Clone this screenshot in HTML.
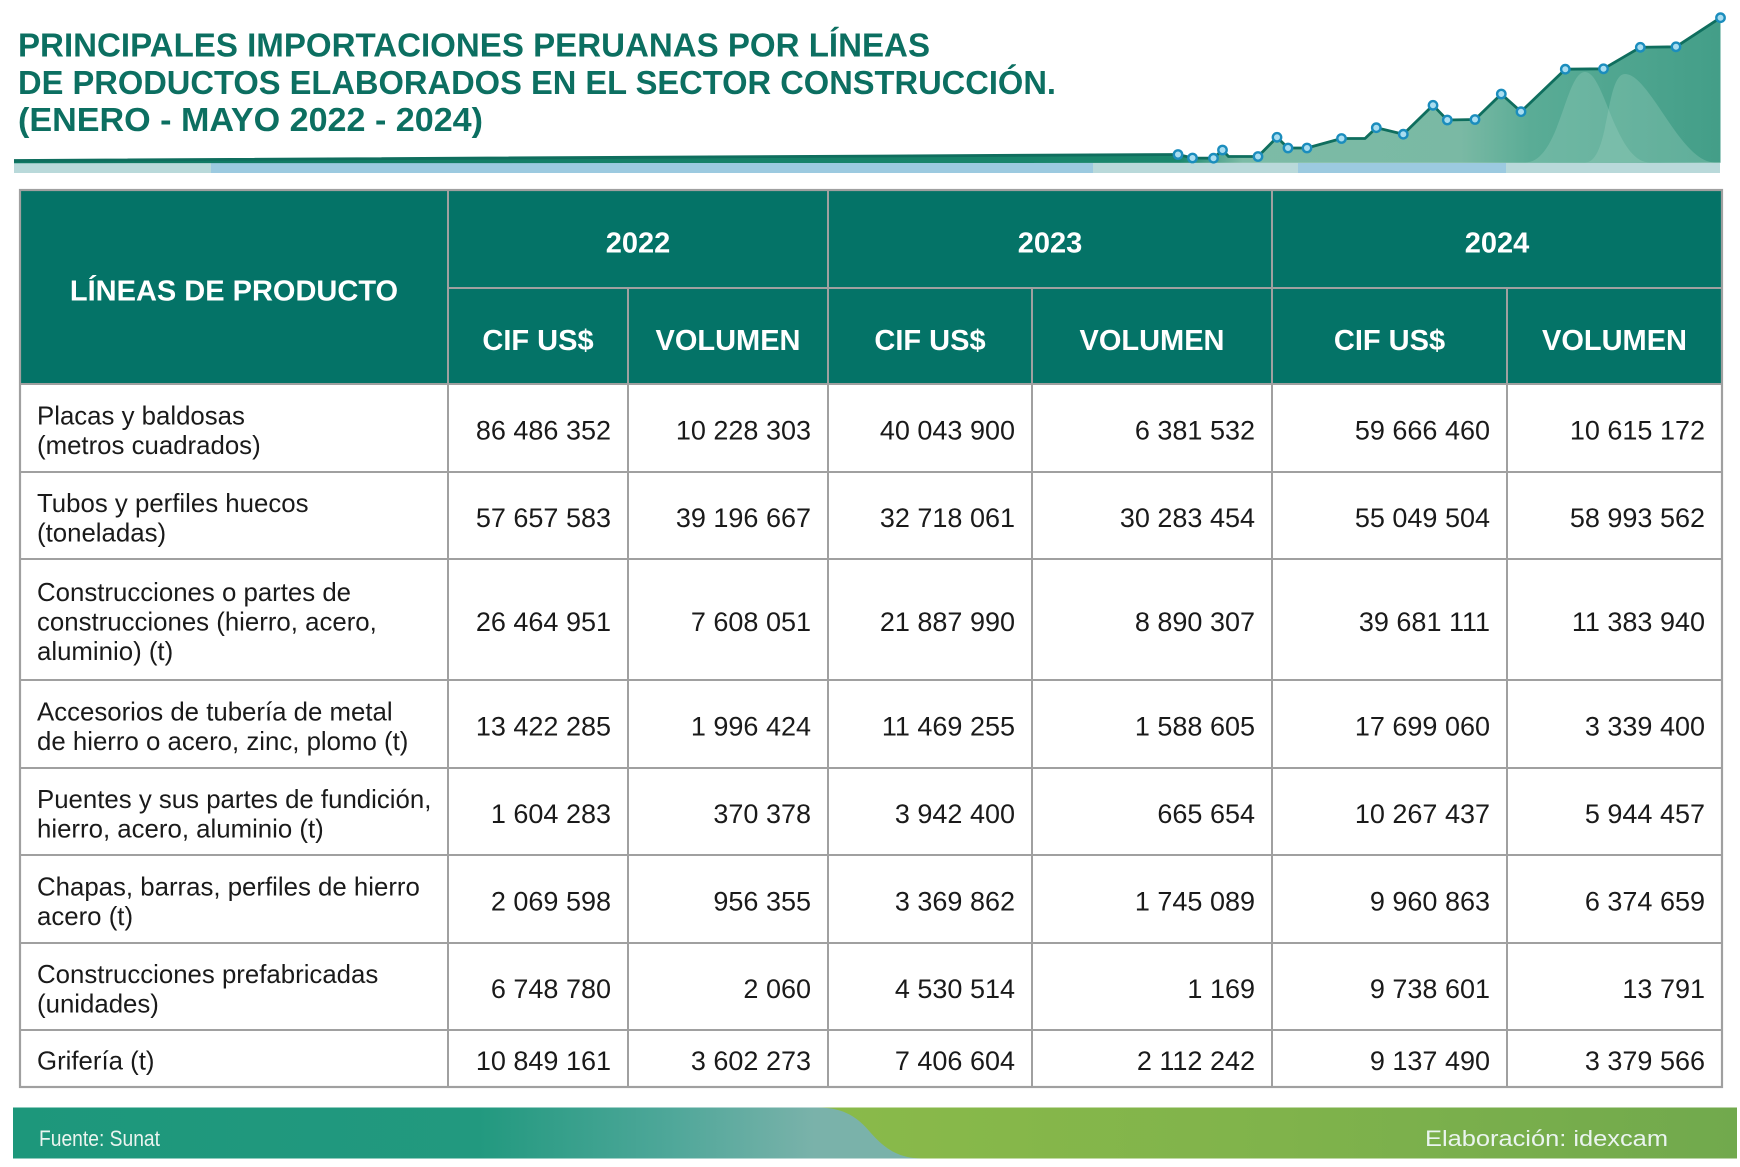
<!DOCTYPE html>
<html><head><meta charset="utf-8"><style>
html,body{margin:0;padding:0;background:#fff;}
svg{display:block;}
text{font-family:"Liberation Sans",Arial,sans-serif;}
</style></head><body>
<svg width="1740" height="1167" viewBox="0 0 1740 1167" xmlns="http://www.w3.org/2000/svg">
<defs>
<linearGradient id="ag" gradientUnits="userSpaceOnUse" x1="14" y1="0" x2="1720" y2="0">
<stop offset="0" stop-color="#0f7863"/>
<stop offset="0.683" stop-color="#1a876d"/>
<stop offset="0.72" stop-color="#7cbba6"/>
<stop offset="0.848" stop-color="#7ab9a4"/>
<stop offset="0.889" stop-color="#5aac96"/>
<stop offset="1" stop-color="#439e88"/>
</linearGradient>
<linearGradient id="ft" gradientUnits="userSpaceOnUse" x1="13" y1="0" x2="1737" y2="0">
<stop offset="0" stop-color="#1d977b"/>
<stop offset="0.27" stop-color="#22997f"/>
<stop offset="0.38" stop-color="#4ea799"/>
<stop offset="0.465" stop-color="#7ab2aa"/>
<stop offset="1" stop-color="#7ab2aa"/>
</linearGradient>
<linearGradient id="fg" gradientUnits="userSpaceOnUse" x1="817" y1="0" x2="1737" y2="0">
<stop offset="0" stop-color="#8aba4a"/>
<stop offset="0.5" stop-color="#80b34b"/>
<stop offset="1" stop-color="#71a94d"/>
</linearGradient>
</defs>

<!-- Title -->
<g fill="#0c6f61" font-weight="bold" font-size="33">
<text x="18" y="56.5" textLength="912" lengthAdjust="spacingAndGlyphs">PRINCIPALES IMPORTACIONES PERUANAS POR LÍNEAS</text>
<text x="18" y="94" textLength="1038" lengthAdjust="spacingAndGlyphs">DE PRODUCTOS ELABORADOS EN EL SECTOR CONSTRUCCIÓN.</text>
<text x="18" y="131" textLength="465" lengthAdjust="spacingAndGlyphs">(ENERO - MAYO 2022 - 2024)</text>
</g>

<!-- band -->
<rect x="14" y="163" width="1706" height="10" fill="#b9d9da"/>
<rect x="211" y="163" width="882" height="10" fill="#9ccae0"/>
<rect x="1298" y="163" width="208" height="10" fill="#9ccae0"/>

<!-- area chart -->
<path d="M14,160.5 L1178,154.5 L1192.5,158 L1213.5,158.2 L1222.5,150 L1228.5,156.5 L1258,156.5 L1277,137.3 L1288,148 L1307,148 L1341.5,138.5 L1365,138.5 L1376.3,127.7 L1403.3,134.2 L1433,105.3 L1447.3,120 L1475,119.5 L1501.3,94 L1521,111.7 L1565.3,69.2 L1603.5,68.8 L1640.3,47.3 L1676,46.8 L1720.5,17.7 L1720.5,162.8 L14,163.2 Z" fill="url(#ag)"/>
<path d="M1525,162.5 C1560,162.5 1565,72 1585,72 C1605,72 1615,162.5 1650,162.5 Z" fill="#a3d3c2" opacity="0.3"/>
<path d="M1585,162.5 C1610,162.5 1605,74 1625,74 C1650,74 1680,162.5 1715,162.5 Z" fill="#a3d3c2" opacity="0.3"/>
<path d="M14,160.5 L1178,154.5 L1192.5,158 L1213.5,158.2 L1222.5,150 L1228.5,156.5 L1258,156.5 L1277,137.3 L1288,148 L1307,148 L1341.5,138.5 L1365,138.5 L1376.3,127.7 L1403.3,134.2 L1433,105.3 L1447.3,120 L1475,119.5 L1501.3,94 L1521,111.7 L1565.3,69.2 L1603.5,68.8 L1640.3,47.3 L1676,46.8 L1720.5,17.7" fill="none" stroke="#0f6e5e" stroke-width="2.8" stroke-linejoin="round"/>
<g fill="#a9ddf0" stroke="#1b8dbd" stroke-width="2.4">
<circle cx="1178" cy="154.5" r="4.2"/><circle cx="1192.5" cy="158" r="4.2"/><circle cx="1213.5" cy="158.2" r="4.2"/><circle cx="1222.5" cy="150" r="4.2"/><circle cx="1258" cy="156.5" r="4.2"/><circle cx="1277" cy="137.3" r="4.2"/><circle cx="1288" cy="148" r="4.2"/><circle cx="1307" cy="148" r="4.2"/><circle cx="1341.5" cy="138.5" r="4.2"/><circle cx="1376.3" cy="127.7" r="4.2"/><circle cx="1403.3" cy="134.2" r="4.2"/><circle cx="1433" cy="105.3" r="4.2"/><circle cx="1447.3" cy="120" r="4.2"/><circle cx="1475" cy="119.5" r="4.2"/><circle cx="1501.3" cy="94" r="4.2"/><circle cx="1521" cy="111.7" r="4.2"/><circle cx="1565.3" cy="69.2" r="4.2"/><circle cx="1603.5" cy="68.8" r="4.2"/><circle cx="1640.3" cy="47.3" r="4.2"/><circle cx="1676" cy="46.8" r="4.2"/><circle cx="1720.5" cy="17.7" r="4.2"/>
</g>

<!-- Table header -->
<rect x="20" y="190" width="1702" height="194" fill="#047367"/>
<g stroke="#a0a0a0" stroke-width="2" fill="none">
<line x1="448" y1="288" x2="1722" y2="288"/>
<line x1="448" y1="190" x2="448" y2="1087"/>
<line x1="828" y1="190" x2="828" y2="1087"/>
<line x1="1272" y1="190" x2="1272" y2="1087"/>
<line x1="628" y1="288" x2="628" y2="1087"/>
<line x1="1032" y1="288" x2="1032" y2="1087"/>
<line x1="1507" y1="288" x2="1507" y2="1087"/>
<line x1="20" y1="384" x2="1722" y2="384"/>
<line x1="20" y1="472" x2="1722" y2="472"/>
<line x1="20" y1="559" x2="1722" y2="559"/>
<line x1="20" y1="680" x2="1722" y2="680"/>
<line x1="20" y1="768" x2="1722" y2="768"/>
<line x1="20" y1="855" x2="1722" y2="855"/>
<line x1="20" y1="943" x2="1722" y2="943"/>
<line x1="20" y1="1030" x2="1722" y2="1030"/>
<rect x="20" y="190" width="1702" height="897" stroke-width="2.2"/>
</g>
<g fill="#ffffff" font-weight="bold" font-size="29" text-anchor="middle">
<text x="234" y="300.5">LÍNEAS DE PRODUCTO</text>
<text x="638" y="252.7">2022</text>
<text x="1050" y="252.7">2023</text>
<text x="1497" y="252.7">2024</text>
<text x="538" y="350">CIF US$</text>
<text x="728" y="350">VOLUMEN</text>
<text x="930" y="350">CIF US$</text>
<text x="1152" y="350">VOLUMEN</text>
<text x="1389.5" y="350">CIF US$</text>
<text x="1614.5" y="350">VOLUMEN</text>
</g>

<!-- Labels -->
<g fill="#1a1a1a" font-size="25.8">
<text x="37" y="424.3">Placas y baldosas</text>
<text x="37" y="453.8">(metros cuadrados)</text>
<text x="37" y="511.8">Tubos y perfiles huecos</text>
<text x="37" y="541.3">(toneladas)</text>
<text x="37" y="601">Construcciones o partes de</text>
<text x="37" y="630.5">construcciones (hierro, acero,</text>
<text x="37" y="660">aluminio) (t)</text>
<text x="37" y="720.3">Accesorios de tubería de metal</text>
<text x="37" y="749.8">de hierro o acero, zinc, plomo (t)</text>
<text x="37" y="807.8">Puentes y sus partes de fundición,</text>
<text x="37" y="837.3">hierro, acero, aluminio (t)</text>
<text x="37" y="895.3">Chapas, barras, perfiles de hierro</text>
<text x="37" y="924.8">acero (t)</text>
<text x="37" y="982.8">Construcciones prefabricadas</text>
<text x="37" y="1012.3">(unidades)</text>
<text x="37" y="1069.5">Grifería (t)</text>
</g>

<!-- Numbers -->
<g fill="#1a1a1a" font-size="27" text-anchor="end">
<text x="611" y="439.5">86 486 352</text><text x="811" y="439.5">10 228 303</text><text x="1015" y="439.5">40 043 900</text><text x="1255" y="439.5">6 381 532</text><text x="1490" y="439.5">59 666 460</text><text x="1705" y="439.5">10 615 172</text>
<text x="611" y="527">57 657 583</text><text x="811" y="527">39 196 667</text><text x="1015" y="527">32 718 061</text><text x="1255" y="527">30 283 454</text><text x="1490" y="527">55 049 504</text><text x="1705" y="527">58 993 562</text>
<text x="611" y="631">26 464 951</text><text x="811" y="631">7 608 051</text><text x="1015" y="631">21 887 990</text><text x="1255" y="631">8 890 307</text><text x="1490" y="631">39 681 111</text><text x="1705" y="631">11 383 940</text>
<text x="611" y="735.5">13 422 285</text><text x="811" y="735.5">1 996 424</text><text x="1015" y="735.5">11 469 255</text><text x="1255" y="735.5">1 588 605</text><text x="1490" y="735.5">17 699 060</text><text x="1705" y="735.5">3 339 400</text>
<text x="611" y="823">1 604 283</text><text x="811" y="823">370 378</text><text x="1015" y="823">3 942 400</text><text x="1255" y="823">665 654</text><text x="1490" y="823">10 267 437</text><text x="1705" y="823">5 944 457</text>
<text x="611" y="910.5">2 069 598</text><text x="811" y="910.5">956 355</text><text x="1015" y="910.5">3 369 862</text><text x="1255" y="910.5">1 745 089</text><text x="1490" y="910.5">9 960 863</text><text x="1705" y="910.5">6 374 659</text>
<text x="611" y="998">6 748 780</text><text x="811" y="998">2 060</text><text x="1015" y="998">4 530 514</text><text x="1255" y="998">1 169</text><text x="1490" y="998">9 738 601</text><text x="1705" y="998">13 791</text>
<text x="611" y="1070">10 849 161</text><text x="811" y="1070">3 602 273</text><text x="1015" y="1070">7 406 604</text><text x="1255" y="1070">2 112 242</text><text x="1490" y="1070">9 137 490</text><text x="1705" y="1070">3 379 566</text>
</g>

<!-- Footer -->
<rect x="13" y="1107.5" width="1724" height="51" fill="url(#ft)"/>
<path d="M817,1107.5 C845,1107.5 858,1118 870,1132 C884,1148 898,1158.5 922,1158.5 L1737,1158.5 L1737,1107.5 Z" fill="url(#fg)"/>
<g fill="#eaf4ef" font-size="22">
<text x="39" y="1146" textLength="121" lengthAdjust="spacingAndGlyphs">Fuente: Sunat</text>
<text x="1425" y="1146" textLength="243" lengthAdjust="spacingAndGlyphs">Elaboración: idexcam</text>
</g>
</svg>
</body></html>
